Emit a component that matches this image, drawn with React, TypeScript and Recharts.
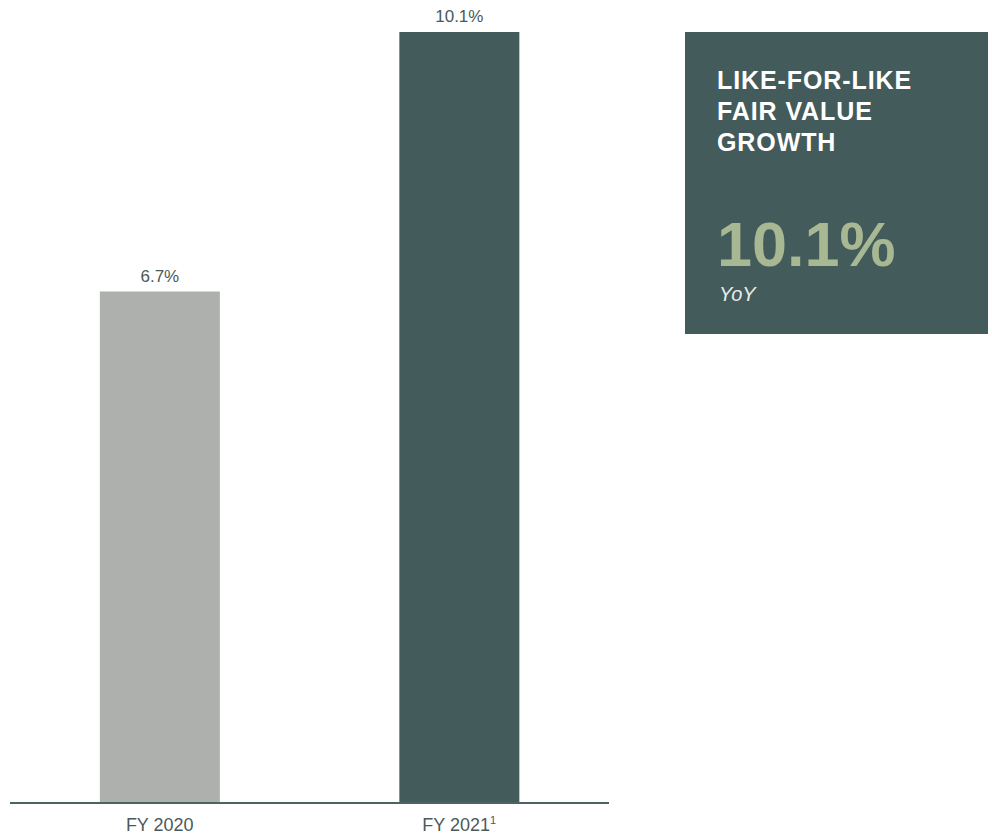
import { BarChart, Bar, XAxis, YAxis, Cell, LabelList } from 'recharts'

const years = ['FY 2020', 'FY 2021']
const footnotes = ['', '1']
const growth = [6.7, 10.1]
const barColors = ['#adb0ac', '#435b5b']

const calloutTitle = ['LIKE-FOR-LIKE', 'FAIR VALUE', 'GROWTH']
const calloutValue = '10.1%'
const calloutNote = 'YoY'

const data = years.map((year, i) => ({ year, note: footnotes[i], growth: growth[i] }))

const font = '"Liberation Sans", Arial, sans-serif'
const textColor = '#4a5a5a'

interface TickProps {
  x?: number
  y?: number
  payload?: { value: string; index: number }
}

function YearTick({ x = 0, y = 0, payload }: TickProps) {
  const note = payload ? footnotes[payload.index] : ''
  return (
    <text x={x} y={y + 20} textAnchor="middle" fill={textColor} fontSize={18} fontFamily={font}>
      {payload?.value}
      {note && (
        <tspan dy={-7} fontSize={11}>
          {note}
        </tspan>
      )}
    </text>
  )
}

export default function App() {
  return (
    <div style={{ position: 'absolute', left: 0, top: 0, width: 992, height: 837, background: '#fff' }}>
      <BarChart
        width={620}
        height={837}
        data={data}
        margin={{ top: 32, right: 11, left: 10, bottom: 0 }}
        barCategoryGap="30%"
      >
        <XAxis
          dataKey="year"
          height={34}
          axisLine={{ stroke: '#4d6361', strokeWidth: 2 }}
          tickLine={false}
          tick={<YearTick />}
          interval={0}
        />
        <YAxis hide domain={[0, 10.1]} />
        <Bar dataKey="growth" isAnimationActive={false}>
          {data.map((d, i) => (
            <Cell key={d.year} fill={barColors[i]} />
          ))}
          <LabelList
            dataKey="growth"
            position="top"
            offset={10}
            formatter={(v: number) => `${v}%`}
            style={{ fill: textColor, fontSize: 17, fontFamily: font }}
          />
        </Bar>
      </BarChart>
      <div
        style={{
          position: 'absolute',
          left: 685,
          top: 32,
          width: 303,
          height: 302,
          background: '#435b5b',
          fontFamily: font,
          boxSizing: 'border-box',
          padding: '33px 0 0 32px',
        }}
      >
        <div style={{ color: '#fff', fontWeight: 700, fontSize: 25, lineHeight: '31px', letterSpacing: 0.9 }}>
          {calloutTitle.map((line) => (
            <div key={line}>{line}</div>
          ))}
        </div>
        <div style={{ color: '#a8b893', fontWeight: 700, fontSize: 63, lineHeight: '62px', marginTop: 55 }}>
          {calloutValue}
        </div>
        <div style={{ color: '#e8ecea', fontStyle: 'italic', fontSize: 20, lineHeight: '20px', marginTop: 9, marginLeft: 2 }}>
          {calloutNote}
        </div>
      </div>
    </div>
  )
}
